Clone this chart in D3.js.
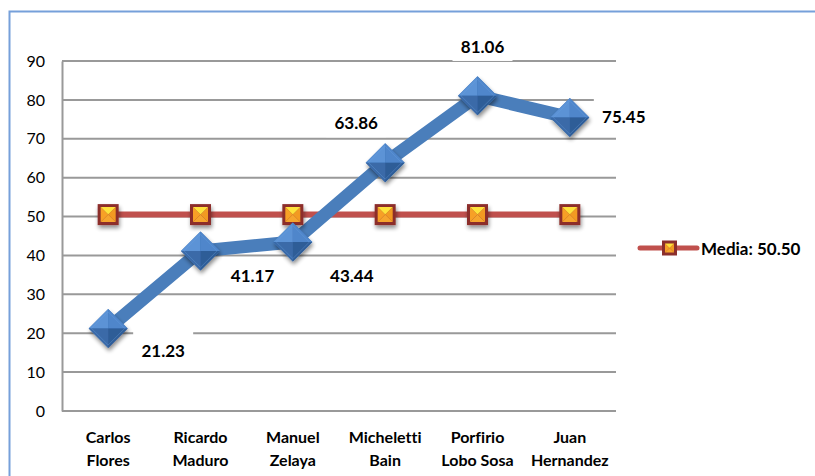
<!DOCTYPE html>
<html>
<head>
<meta charset="utf-8">
<script src="https://cdn.jsdelivr.net/npm/d3@7"></script>
<style>
  body { margin: 0; background: #fff; }
  text { font-family: Lato, "Open Sans", sans-serif; font-variant-ligatures: none; }
</style>
</head>
<body>
<div id="chart"></div>
<script>
// Data
var presidents = ["Carlos Flores", "Ricardo Maduro", "Manuel Zelaya", "Micheletti Bain", "Porfirio Lobo Sosa", "Juan Hernandez"];
var nameLines = [["Carlos", "Flores"], ["Ricardo", "Maduro"], ["Manuel", "Zelaya"], ["Micheletti", "Bain"], ["Porfirio", "Lobo Sosa"], ["Juan", "Hernandez"]];
var values = [21.23, 41.17, 43.44, 63.86, 81.06, 75.45];
var media = 50.50;
var yTicks = [0, 10, 20, 30, 40, 50, 60, 70, 80, 90];

var W = 815, H = 476;
var margin = { top: 61, right: 199, bottom: 65, left: 62 };
var width = W - margin.left - margin.right;
var height = H - margin.top - margin.bottom;

var svg = d3.select("#chart").append("svg")
  .attr("width", W)
  .attr("height", H);

// outer frame
svg.append("rect")
  .attr("x", 9.5).attr("y", 11.5)
  .attr("width", 830).attr("height", 500)
  .attr("fill", "none")
  .attr("stroke", "#76a0da")
  .attr("stroke-width", 2);

var defs = svg.append("defs");
var sh = defs.append("filter").attr("id", "shadow")
  .attr("x", "-50%").attr("y", "-50%").attr("width", "200%").attr("height", "200%");
sh.append("feGaussianBlur").attr("in", "SourceAlpha").attr("stdDeviation", 2);
sh.append("feOffset").attr("dx", 1).attr("dy", 3).attr("result", "b");
sh.append("feComponentTransfer").append("feFuncA").attr("type", "linear").attr("slope", 0.45);
var mg = sh.append("feMerge");
mg.append("feMergeNode");
mg.append("feMergeNode").attr("in", "SourceGraphic");

var g = svg.append("g")
  .attr("transform", "translate(" + margin.left + "," + margin.top + ")");

// Scales
var x = d3.scaleBand().domain(presidents).range([0, width]);
var y = d3.scaleLinear().domain([0, 90]).range([height, 0]);

// Gridlines
g.selectAll(".grid")
  .data(yTicks)
  .enter().append("line")
  .attr("class", "grid")
  .attr("x1", 0).attr("x2", width)
  .attr("y1", function(d){ return y(d); })
  .attr("y2", function(d){ return y(d); })
  .attr("stroke", "#999")
  .attr("stroke-width", 2);

// Y axis
var yAxis = d3.axisLeft(y).tickValues(yTicks).tickSize(0).tickPadding(17);
var yAxisGroup = g.append("g").call(yAxis);
yAxisGroup.select(".domain").attr("stroke", "#999").attr("stroke-width", 2);
yAxisGroup.selectAll("text")
  .style("font-size", "16px")
  .style("font-family", "Lato, sans-serif")
  .attr("fill", "#000");

// X axis labels
var xLab = g.append("g").attr("transform", "translate(0," + height + ")");
xLab.selectAll("text")
  .data(presidents)
  .enter().append("text")
  .attr("x", function(d){ return x(d) + x.bandwidth() / 2; })
  .attr("y", 32)
  .attr("text-anchor", "middle")
  .style("font-size", "16px")
  .style("font-weight", "bold")
  .each(function(d, i){
    var t = d3.select(this);
    nameLines[i].forEach(function(line, j){
      t.append("tspan")
        .attr("x", x(d) + x.bandwidth() / 2)
        .attr("dy", j === 0 ? 0 : 23)
        .text(line);
    });
  });

var cx = function(i){ return x(presidents[i]) + x.bandwidth() / 2; };

// Media line
g.append("path")
  .datum(presidents)
  .attr("d", d3.line().x(function(d, i){ return cx(i); }).y(y(media)))
  .attr("fill", "none")
  .attr("stroke", "#c0504d")
  .attr("stroke-width", 6);

// Value line
g.append("path")
  .datum(values)
  .attr("d", d3.line().x(function(d, i){ return cx(i); }).y(function(d){ return y(d); }))
  .attr("fill", "none")
  .attr("stroke", "#4a7ebb")
  .attr("stroke-width", 13)
  .attr("stroke-linejoin", "round");

// Square marker
function squareMarker(sel, s) {
  var h = s / 2, k = h - 3;
  sel.append("rect")
    .attr("x", -h).attr("y", -h).attr("width", s).attr("height", s)
    .attr("fill", "#8c2f2c");
  sel.append("path").attr("d", "M" + -k + "," + -k + "L0,0L" + -k + "," + k + "Z").attr("fill", "#f7a028");
  sel.append("path").attr("d", "M" + k + "," + -k + "L0,0L" + k + "," + k + "Z").attr("fill", "#f29a22");
  sel.append("path").attr("d", "M" + -k + "," + k + "L0,0L" + k + "," + k + "Z").attr("fill", "#f6a52e");
  sel.append("path").attr("d", "M" + -k + "," + -k + "L0,0L" + k + "," + -k + "Z").attr("fill", "#ffe23a");
}

// Diamond marker
function diamondMarker(sel, r) {
  var dg = sel.append("g").attr("filter", "url(#shadow)");
  dg.append("path").attr("d", "M0," + -r + "L" + r + ",0L0," + r + "L" + -r + ",0Z").attr("fill", "#3d6fb0");
  var k = r - 3;
  dg.append("path").attr("d", "M0," + -r + "L0,0L" + -r + ",0Z").attr("fill", "#5b93d6");
  dg.append("path").attr("d", "M0," + -r + "L" + r + ",0L0,0Z").attr("fill", "#4f86cb");
  dg.append("path").attr("d", "M" + -r + ",0L0,0L0," + r + "Z").attr("fill", "#3a6aa8");
  dg.append("path").attr("d", "M" + r + ",0L0," + r + "L0,0Z").attr("fill", "#2f5d97");
  dg.append("path").attr("d", "M0," + -k + "L" + k + ",0L0," + k + "L" + -k + ",0Z")
    .attr("fill", "none").attr("stroke", "#6aa0e0").attr("stroke-opacity", 0.35);
}

g.selectAll(".sq")
  .data(presidents)
  .enter().append("g")
  .attr("class", "sq")
  .attr("filter", "url(#shadow)")
  .attr("transform", function(d, i){ return "translate(" + cx(i) + "," + y(media) + ")"; })
  .each(function(){ squareMarker(d3.select(this), 21); });

g.selectAll(".dm")
  .data(values)
  .enter().append("g")
  .attr("class", "dm")
  .attr("transform", function(d, i){ return "translate(" + cx(i) + "," + y(d) + ")"; })
  .each(function(){ diamondMarker(d3.select(this), 19.5); });

// Data labels (manual offsets like the original)
var labelOffsets = [[55, 28.5], [52, 31], [59, 40], [-29, -33.5], [5, -42.8], [54, 5.4]];
var labels = g.selectAll(".dl")
  .data(values)
  .enter().append("g")
  .attr("class", "dl")
  .attr("transform", function(d, i){
    return "translate(" + (cx(i) + labelOffsets[i][0]) + "," + (y(d) + labelOffsets[i][1]) + ")";
  });
labels.append("rect")
  .attr("x", -30).attr("y", -25).attr("width", 60).attr("height", 33)
  .attr("fill", "#fff");
labels.append("text")
  .attr("text-anchor", "middle")
  .style("font-size", "17px")
  .style("font-weight", "bold")
  .text(function(d){ return d3.format(".2f")(d); });

// Legend
var legend = svg.append("g").attr("transform", "translate(640,248)");
legend.append("line")
  .attr("x1", 0).attr("x2", 57)
  .attr("stroke", "#c0504d").attr("stroke-width", 5).attr("stroke-linecap", "round");
legend.append("g").attr("transform", "translate(29.5,0)")
  .each(function(){ squareMarker(d3.select(this), 15); });
legend.append("text")
  .attr("x", 61).attr("y", 7)
  .style("font-size", "17px")
  .style("font-weight", "bold")
  .text("Media: " + d3.format(".2f")(media));
</script>
</body>
</html>
